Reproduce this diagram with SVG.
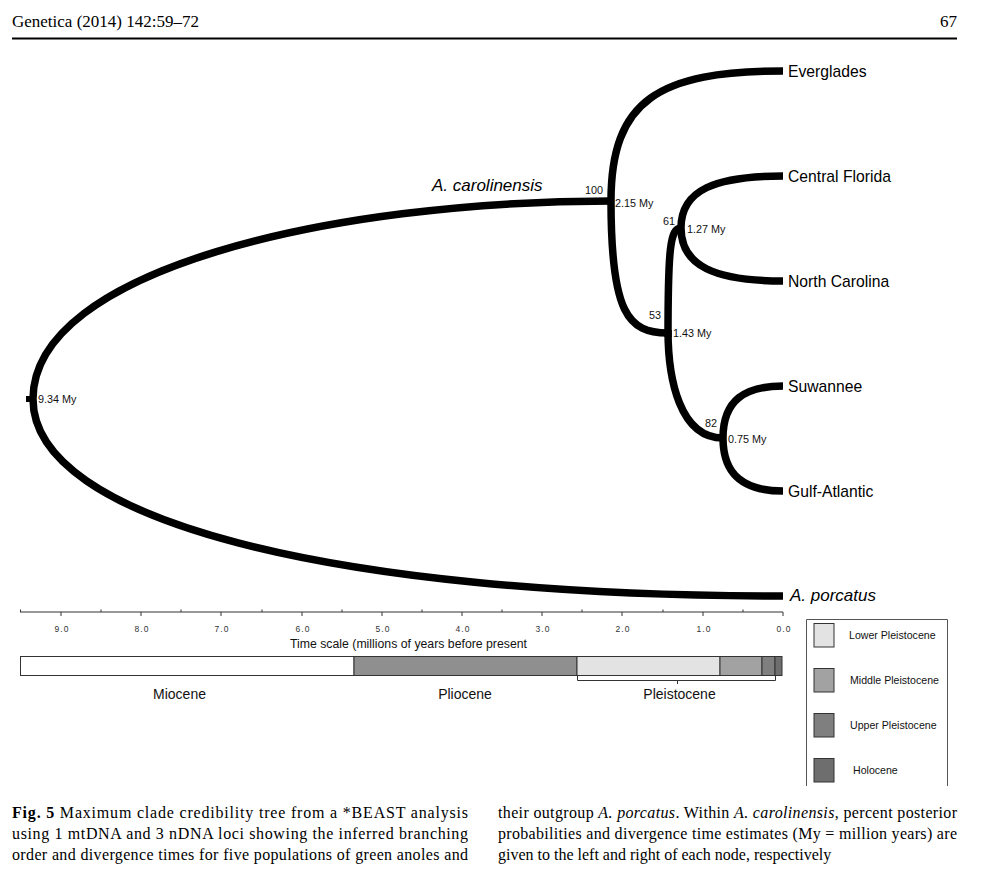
<svg xmlns="http://www.w3.org/2000/svg" width="985" height="869" viewBox="0 0 985 869">
<style>
.br{fill:none;stroke:#000;stroke-width:7.5;stroke-linecap:butt}
.tip{font-family:"Liberation Sans",Arial,sans-serif;font-size:15.7px;fill:#000}
.sp{font-family:"Liberation Sans",Arial,sans-serif;font-size:17px;font-style:italic;fill:#000}
.nl{font-family:"Liberation Sans",Arial,sans-serif;font-size:10.8px;fill:#111}
.ax{font-family:"Liberation Sans",Arial,sans-serif;font-size:8.5px;fill:#333;letter-spacing:1px;text-anchor:middle}
.ep{font-family:"Liberation Sans",Arial,sans-serif;font-size:14px;fill:#111;text-anchor:middle}
.lg{font-family:"Liberation Sans",Arial,sans-serif;font-size:10.6px;fill:#111}
.cap{font-family:"Liberation Serif","Times New Roman",serif;font-size:16px;fill:#000}
.seg{stroke:#333;stroke-width:1}
</style>
<rect width="985" height="869" fill="#fff"/>
<g id="header">
<text class="cap" x="12" y="27" style="font-size:17px">Genetica (2014) 142:59–72</text>
<text class="cap" x="957" y="27" style="font-size:17px" text-anchor="end">67</text>
<line x1="12" y1="38.5" x2="957" y2="38.5" stroke="#000" stroke-width="2"/>
</g>
<g id="connectors">
<path class="br" d="M33,399 C33,270 330,201 611,201"/>
<path class="br" d="M33,399 C33,520 330,596 783,596"/>
<path class="br" d="M611,201 C611,100 659,71 783,71"/>
<path class="br" d="M611,201 C611,313 628,333 668,333"/>
<path class="br" d="M668,337 C668,250 670,228 681,228"/>
<path class="br" d="M668,330 C668,380 680,438 723,438"/>
<path class="br" d="M681,228 C681,190 715,176 783,176"/>
<path class="br" d="M681,228 C681,266 715,281 783,281"/>
<path class="br" d="M723,438 C723,400 745,386 783,386"/>
<path class="br" d="M723,438 C723,476 745,491 783,491"/>
<rect x="26" y="396" width="7" height="6" fill="#000"/>
</g>
<g id="node-root"><text class="nl" x="38" y="403">9.34 My</text></g>
<g id="node-215"><text class="nl" x="603" y="194" text-anchor="end">100</text><text class="nl" x="615" y="207">2.15 My</text></g>
<g id="node-143"><text class="nl" x="661" y="319" text-anchor="end">53</text><text class="nl" x="673" y="337">1.43 My</text></g>
<g id="node-127"><text class="nl" x="675" y="225" text-anchor="end">61</text><text class="nl" x="687" y="233">1.27 My</text></g>
<g id="node-075"><text class="nl" x="717" y="427" text-anchor="end">82</text><text class="nl" x="728" y="443">0.75 My</text></g>
<g id="clade-label"><text class="sp" x="432" y="191">A. carolinensis</text></g>
<g id="tip-everglades"><text class="tip" x="788" y="77">Everglades</text></g>
<g id="tip-centralflorida"><text class="tip" x="788" y="182">Central Florida</text></g>
<g id="tip-northcarolina"><text class="tip" x="788" y="287">North Carolina</text></g>
<g id="tip-suwannee"><text class="tip" x="788" y="392">Suwannee</text></g>
<g id="tip-gulfatlantic"><text class="tip" x="788" y="497">Gulf-Atlantic</text></g>
<g id="tip-porcatus"><text class="sp" x="790" y="601">A. porcatus</text></g>
<g id="axis">
<line x1="20" y1="612" x2="783" y2="612" stroke="#333" stroke-width="1"/>
<path stroke="#333" stroke-width="1" d="M61,612v4M141,612v4M221,612v4M302,612v4M382,612v4M462,612v4M542,612v4M622,612v4M703,612v4M783,612v4M20.5,612v-2.5M101,612v-2.5M181,612v-2.5M262,612v-2.5M342,612v-2.5M422,612v-2.5M502,612v-2.5M582,612v-2.5M663,612v-2.5M743,612v-2.5"/>
<text class="ax" x="62" y="632">9.0</text>
<text class="ax" x="142" y="632">8.0</text>
<text class="ax" x="222" y="632">7.0</text>
<text class="ax" x="303" y="632">6.0</text>
<text class="ax" x="383" y="632">5.0</text>
<text class="ax" x="463" y="632">4.0</text>
<text class="ax" x="543" y="632">3.0</text>
<text class="ax" x="623" y="632">2.0</text>
<text class="ax" x="704" y="632">1.0</text>
<text class="ax" x="784" y="632">0.0</text>
<text class="lg" x="290" y="648" style="font-size:12px" textLength="237" lengthAdjust="spacingAndGlyphs">Time scale (millions of years before present</text>
</g>
<g id="epochs">
<rect class="seg" x="20.5" y="656.5" width="333.5" height="19" fill="#fff"/>
<rect class="seg" x="354" y="656.5" width="223" height="19" fill="#8f8f8f"/>
<rect class="seg" x="577" y="656.5" width="143" height="19" fill="#e3e3e3"/>
<rect class="seg" x="720" y="656.5" width="42" height="19" fill="#a2a2a2"/>
<rect class="seg" x="762" y="656.5" width="13" height="19" fill="#7f7f7f"/>
<rect class="seg" x="775" y="656.5" width="7" height="19" fill="#6e6e6e"/>
<path d="M577.5,675.5V680.5H775.5V675.5M677.5,680.5V684" fill="none" stroke="#333" stroke-width="1"/>
<text class="ep" x="179.5" y="699">Miocene</text>
<text class="ep" x="465" y="699">Pliocene</text>
<text class="ep" x="679.5" y="699">Pleistocene</text>
</g>
<g id="legend">
<path d="M806.5,786V619.5H947.5V786" fill="none" stroke="#555" stroke-width="1"/>
<rect class="seg" x="814" y="623.5" width="20" height="23.5" fill="#e3e3e3" stroke-width="1.5"/>
<rect class="seg" x="814" y="668.5" width="20" height="23.5" fill="#a2a2a2" stroke-width="1.5"/>
<rect class="seg" x="814" y="713.5" width="20" height="23.5" fill="#7f7f7f" stroke-width="1.5"/>
<rect class="seg" x="814" y="758.5" width="20" height="23.5" fill="#6e6e6e" stroke-width="1.5"/>
<text class="lg" x="849" y="639">Lower Pleistocene</text>
<text class="lg" x="850" y="684">Middle Pleistocene</text>
<text class="lg" x="850" y="729">Upper Pleistocene</text>
<text class="lg" x="853" y="774">Holocene</text>
</g>
<g id="caption">
<text class="cap" x="12" y="818" textLength="456" lengthAdjust="spacing"><tspan font-weight="bold">Fig. 5</tspan> Maximum clade credibility tree from a *BEAST analysis</text>
<text class="cap" x="12" y="839" textLength="456" lengthAdjust="spacing">using 1 mtDNA and 3 nDNA loci showing the inferred branching</text>
<text class="cap" x="12" y="860" textLength="456" lengthAdjust="spacing">order and divergence times for five populations of green anoles and</text>
<text class="cap" x="498" y="818" textLength="459" lengthAdjust="spacing">their outgroup <tspan font-style="italic">A. porcatus</tspan>. Within <tspan font-style="italic">A. carolinensis</tspan>, percent posterior</text>
<text class="cap" x="498" y="839" textLength="459" lengthAdjust="spacing">probabilities and divergence time estimates (My = million years) are</text>
<text class="cap" x="498" y="860">given to the left and right of each node, respectively</text>
</g>
</svg>
